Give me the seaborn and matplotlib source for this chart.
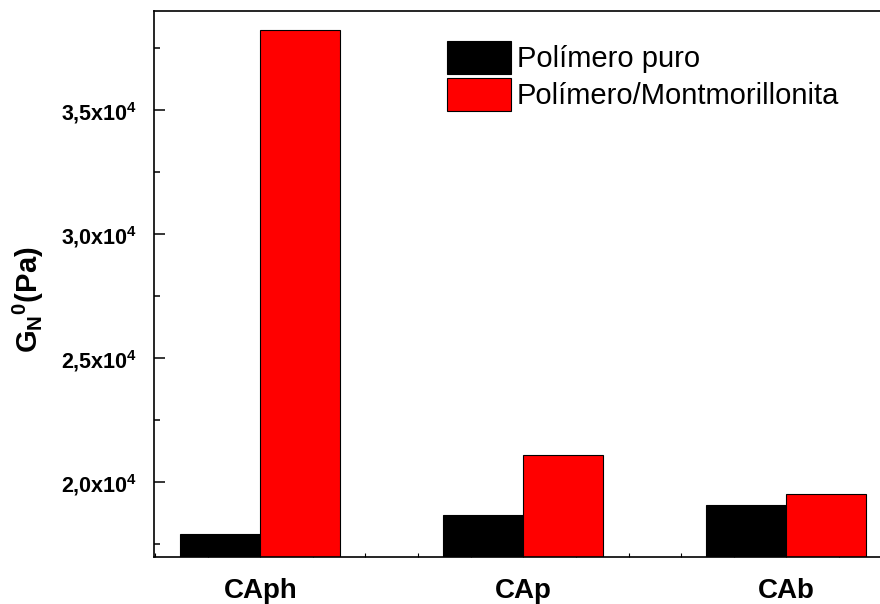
import matplotlib
matplotlib.use("Agg")
import matplotlib.pyplot as plt
from matplotlib.ticker import MultipleLocator
import pandas as pd
import seaborn as sns

# Plateau modulus per sample, neat polymer vs. clay composite
categories = ["CAph", "CAp", "CAb"]
series_names = ["Polímero puro", "Polímero/Montmorillonita"]
puro = [17900, 18680, 19070]
montmorillonita = [38250, 21090, 19510]
series_colors = ["#000000", "#FF0000"]

ytick_values = [20000, 25000, 30000, 35000]
ytick_labels = ["2,0x10$^\\mathbf{4}$", "2,5x10$^\\mathbf{4}$",
                "3,0x10$^\\mathbf{4}$", "3,5x10$^\\mathbf{4}$"]
y_label = "G$_\\mathbf{N}$$^\\mathbf{0}$(Pa)"

df = pd.DataFrame({
    "muestra": categories * 2,
    "serie": [series_names[0]] * len(categories) + [series_names[1]] * len(categories),
    "G": puro + montmorillonita,
})

sns.set_theme(style="ticks")
plt.rcParams["font.family"] = ["Liberation Sans", "DejaVu Sans"]
plt.rcParams["mathtext.fontset"] = "custom"
plt.rcParams["mathtext.rm"] = "Liberation Sans"
plt.rcParams["mathtext.bf"] = "Liberation Sans:bold"
plt.rcParams["mathtext.it"] = "Liberation Sans:italic"
for key in ["text.color", "axes.labelcolor", "xtick.color", "ytick.color", "axes.edgecolor"]:
    plt.rcParams[key] = "black"

W, H = 880, 604
fig = plt.figure(figsize=(W / 100, H / 100), dpi=100)
left, right, top, bottom = 154, 880, 11, 556.7
ax = fig.add_axes([left / W, 1 - bottom / H, (right - left) / W, (bottom - top) / H])

sns.barplot(data=df, x="muestra", y="G", hue="serie", palette=series_colors,
            width=0.608, gap=0, saturation=1, edgecolor="black", linewidth=0.8,
            errorbar=None, ax=ax)

ax.set_ylim(17000, 39000)
ax.set_xlim(-0.404, 2.356)

# frame
for side in ["left", "bottom", "top"]:
    ax.spines[side].set_visible(True)
    ax.spines[side].set_linewidth(1.2)
    ax.spines[side].set_color("black")
ax.spines["right"].set_visible(False)

# y axis
ax.set_yticks(ytick_values, ytick_labels)
ax.yaxis.set_minor_locator(MultipleLocator(2500))
ax.tick_params(axis="y", which="major", direction="in", length=8, width=1.1,
               pad=12, labelsize=15.5, colors="black")
ax.tick_params(axis="y", which="minor", direction="in", length=4, width=1.1)
for lbl in ax.get_yticklabels():
    lbl.set_fontweight("bold")

# x axis
ax.xaxis.set_minor_locator(MultipleLocator(0.2))
ax.tick_params(axis="x", which="major", direction="in", length=3, width=0.8,
               pad=15, labelsize=20, colors="black")
ax.tick_params(axis="x", which="minor", direction="in", length=3, width=0.8)
for lbl in ax.get_xticklabels():
    lbl.set_fontweight("bold")
ax.set_xlabel("")

ax.set_ylabel(y_label, fontsize=21, fontweight="bold", color="black")
ax.yaxis.set_label_coords((28 - left) / (right - left), (bottom - 300) / (bottom - top))
ax.yaxis.label.set_va("center")

handles, labels = ax.get_legend_handles_labels()
leg = ax.legend(handles, labels, loc="upper left",
                bbox_to_anchor=((447 - left) / (right - left), (bottom - 41) / (bottom - top)),
                frameon=False, fontsize=21, handlelength=2.2, handleheight=1.35,
                handletextpad=0.2, labelspacing=0.15, borderaxespad=0, borderpad=0)
for t in leg.get_texts():
    t.set_color("black")

fig.savefig("out.png", dpi=100)
